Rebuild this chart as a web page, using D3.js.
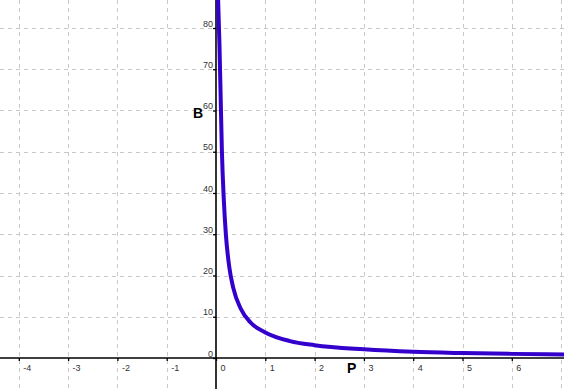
<!DOCTYPE html>
<html><head><meta charset="utf-8">
<script src="https://cdn.jsdelivr.net/npm/d3@7"></script>
<style>html,body{margin:0;padding:0;background:#fff;overflow:hidden}</style>
</head><body>
<svg id="c" width="564" height="389"></svg>
<script>
// Data
const P = [0.04, 0.07, 0.095, 0.12, 0.16, 0.2, 0.27, 0.35, 0.5, 0.7, 1, 1.5, 2, 3, 4, 5, 6, 7.1];
const B = [88, 76, 63, 50, 38, 30, 22, 17, 12, 8.6, 6.2, 4.1, 3.1, 2.1, 1.5, 1.2, 1.0, 0.85];
const xTicks = [-4, -3, -2, -1, 0, 1, 2, 3, 4, 5, 6];
const xGrid = [-4, -3, -2, -1, 1, 2, 3, 4, 5, 6, 7];
const yTicks = [0, 10, 20, 30, 40, 50, 60, 70, 80];
const yGrid = [10, 20, 30, 40, 50, 60, 70, 80];

const W = 564, H = 389;
const x = d3.scaleLinear().domain([-216/49.3, (W-216)/49.3]).range([0, W]);
const y = d3.scaleLinear().domain([(358-H)/4.125, 358/4.125]).range([H, 0]);
const svg = d3.select("#c");
const font = "Liberation Sans, Arial, sans-serif";

// grid
svg.append("g").selectAll("line").data(xGrid).join("line")
  .attr("x1", d => Math.round(x(d)) + 0.5).attr("x2", d => Math.round(x(d)) + 0.5)
  .attr("y1", 0).attr("y2", H)
  .attr("stroke", "#c8c8c8").attr("stroke-dasharray", "4,4");
svg.append("g").selectAll("line").data(yGrid).join("line")
  .attr("y1", d => Math.round(y(d)) + 0.5).attr("y2", d => Math.round(y(d)) + 0.5)
  .attr("x1", 0).attr("x2", W)
  .attr("stroke", "#c8c8c8").attr("stroke-dasharray", "4,4");

// axes lines
svg.append("line").attr("x1", 0).attr("x2", W).attr("y1", y(0)).attr("y2", y(0))
  .attr("stroke", "#000").attr("stroke-width", 1.6);
svg.append("line").attr("x1", x(0)).attr("x2", x(0)).attr("y1", 0).attr("y2", H)
  .attr("stroke", "#000").attr("stroke-width", 1.6);

// x axis ticks
const gx = svg.append("g").attr("transform", `translate(0,${y(0)})`)
  .call(d3.axisBottom(x).tickValues(xTicks).tickSize(3).tickFormat(d => String(d)));
gx.select(".domain").remove();
gx.selectAll(".tick line").attr("stroke", "#000").attr("stroke-width", 1.3);
gx.selectAll(".tick text").attr("text-anchor", "start").attr("dx", 4).attr("y", 7)
  .attr("font-family", font).attr("font-size", 9).attr("fill", "#333");

// y axis ticks
const gy = svg.append("g").attr("transform", `translate(${x(0)},0)`)
  .call(d3.axisLeft(y).tickValues(yTicks).tickSize(3).tickFormat(d => String(d)));
gy.select(".domain").remove();
gy.selectAll(".tick line").attr("stroke", "#000").attr("stroke-width", 1.3);
gy.selectAll(".tick text").attr("x", -3).attr("dy", "-0.2em")
  .attr("font-family", font).attr("font-size", 9).attr("fill", "#333");

// curve
const pts = P.map((p, i) => [p, B[i]]);
svg.append("clipPath").attr("id", "clip").append("rect").attr("width", W).attr("height", H);
svg.append("path").datum(pts).attr("clip-path", "url(#clip)")
  .attr("d", d3.line().x(d => x(d[0])).y(d => y(d[1])).curve(d3.curveMonotoneX))
  .attr("fill", "none").attr("stroke", "#3300cc").attr("stroke-width", 4).attr("stroke-linecap", "round");

// axis names
svg.append("text").attr("x", 193).attr("y", 118).text("B")
  .attr("font-family", font).attr("font-size", 14).attr("font-weight", "bold");
svg.append("text").attr("x", 347).attr("y", 373).text("P")
  .attr("font-family", font).attr("font-size", 14).attr("font-weight", "bold");
</script>
</body></html>
